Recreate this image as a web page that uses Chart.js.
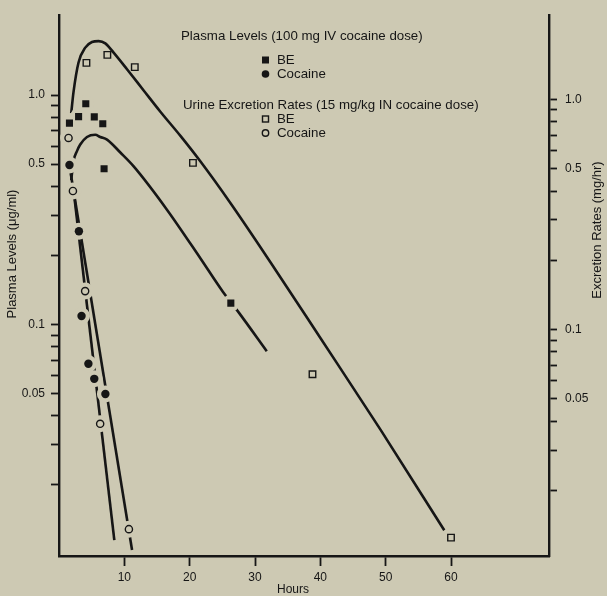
<!DOCTYPE html>
<html>
<head>
<meta charset="utf-8">
<script src="https://cdn.jsdelivr.net/npm/chart.js@4.4.1/dist/chart.umd.min.js"></script>
<style>
html,body{margin:0;padding:0;background:#cdc9b3;}
#wrap{width:607px;height:596px;position:relative;}
</style>
</head>
<body>
<div id="wrap"><canvas id="c" width="607" height="596"></canvas></div>
<script>
// ---------- data ----------
// Plasma levels (100 mg IV cocaine dose), left axis, µg/ml
const plasmaBEHours   = [1.6, 3.0, 4.1, 5.4, 6.7, 6.9, 26.3];
const plasmaBELevels  = [0.755, 0.806, 0.917, 0.804, 0.75, 0.478, 0.124];
const plasmaCocHours  = [1.6, 3.05, 3.45, 4.5, 5.4, 7.1];
const plasmaCocLevels = [0.496, 0.255, 0.109, 0.0675, 0.058, 0.0498];
// Urine excretion rates (15 mg/kg IN cocaine dose), right axis, mg/hr
const urineBEHours    = [4.2, 7.4, 11.6, 20.5, 38.8, 60.0];
const urineBERates    = [1.44, 1.56, 1.38, 0.53, 0.064, 0.0125];
const urineCocHours   = [1.46, 2.13, 4.0, 6.3, 10.7];
const urineCocRates   = [0.68, 0.40, 0.147, 0.039, 0.0136];
// Fitted curves
const urineBEFitHours   = [1.87, 2.22, 2.99, 4.02, 5.05, 6.06, 7.09, 8.36, 10.41, 12.96, 15.52, 18.59, 21.66, 26.26, 32.39, 40.06, 49.23, 58.97];
const urineBEFitRates   = [0.871, 1.075, 1.446, 1.677, 1.774, 1.791, 1.751, 1.596, 1.352, 1.093, 0.884, 0.694, 0.537, 0.354, 0.1958, 0.0915, 0.0367, 0.01345];
const plasmaBEFitHours  = [1.87, 2.22, 2.75, 3.25, 4.28, 5.55, 6.32, 7.35, 9.39, 11.43, 16.55, 21.66, 25.08, 27.53, 31.8];
const plasmaBEFitLevels = [0.426, 0.516, 0.57, 0.609, 0.657, 0.672, 0.657, 0.64, 0.562, 0.489, 0.316, 0.194, 0.139, 0.1127, 0.0765];
const urineCocFitHours   = [2.25, 8.47];
const urineCocFitRates   = [0.399, 0.0122];
const plasmaCocFitHours  = [1.64, 11.18];
const plasmaCocFitLevels = [0.4845, 0.0104];
// Ticks
const xTickValues = [10, 20, 30, 40, 50, 60];
const yTickValues = [0.02, 0.03, 0.04, 0.05, 0.06, 0.07, 0.08, 0.09, 0.1, 0.2, 0.3, 0.4, 0.5, 0.6, 0.7, 0.8, 0.9, 1.0];
const yLabelValues = [1.0, 0.5, 0.1, 0.05];
const yLabelTexts  = ['1.0', '0.5', '0.1', '0.05'];
// Text
const legendHeadings = ['Plasma Levels (100 mg IV cocaine dose)', 'Urine Excretion Rates (15 mg/kg IN cocaine dose)'];
const legendNames = ['BE', 'Cocaine', 'BE', 'Cocaine'];
const xTitle = 'Hours';
const yTitle = 'Plasma Levels (\u03bcg/ml)';
const y2Title = 'Excretion Rates (mg/hr)';

// ---------- styling ----------
const BG = '#cdc9b3';
const INK = '#161616';
const FONT = "'Liberation Sans', Arial, Helvetica, sans-serif";

const pts = (xs, ys) => xs.map((x, i) => ({x: x, y: ys[i]}));
const yLabel = (v) => {
  for (let i = 0; i < yLabelValues.length; i++) {
    if (Math.abs(v - yLabelValues[i]) < 1e-9) return yLabelTexts[i];
  }
  return '';
};

function fitLine(label, data, axis, smooth) {
  return {
    label: label, data: data, yAxisID: axis, showLine: true,
    borderColor: INK, borderWidth: 2.6, pointRadius: 0, fill: false,
    cubicInterpolationMode: smooth ? 'monotone' : 'default', tension: 0,
    order: 3
  };
}
function halo(label, data, axis) {
  return {
    label: label, data: data, yAxisID: axis, showLine: false,
    pointRadius: 8.5, pointHoverRadius: 8.5, pointBackgroundColor: BG,
    pointBorderWidth: 0, pointBorderColor: BG, order: 2
  };
}
function marks(label, data, axis, style, r, filled) {
  return {
    label: label, data: data, yAxisID: axis, showLine: false,
    pointStyle: style, pointRadius: r, pointHoverRadius: r,
    pointBackgroundColor: filled ? INK : BG,
    pointBorderColor: INK, pointBorderWidth: filled ? 0 : 1.4, order: 1
  };
}

const datasets = [
  fitLine('Urine BE fit', pts(urineBEFitHours, urineBEFitRates), 'y2', true),
  fitLine('Plasma BE fit', pts(plasmaBEFitHours, plasmaBEFitLevels), 'y', true),
  fitLine('Urine cocaine fit', pts(urineCocFitHours, urineCocFitRates), 'y2', false),
  fitLine('Plasma cocaine fit', pts(plasmaCocFitHours, plasmaCocFitLevels), 'y', false),
  halo('h1', pts(plasmaBEHours, plasmaBELevels), 'y'),
  halo('h2', pts(plasmaCocHours, plasmaCocLevels), 'y'),
  halo('h3', pts(urineCocHours, urineCocRates), 'y2'),
  marks('Plasma BE', pts(plasmaBEHours, plasmaBELevels), 'y', 'rect', 5, true),
  marks('Plasma Cocaine', pts(plasmaCocHours, plasmaCocLevels), 'y', 'circle', 4.2, true),
  marks('Urine BE', pts(urineBEHours, urineBERates), 'y2', 'rect', 4.6, false),
  marks('Urine Cocaine', pts(urineCocHours, urineCocRates), 'y2', 'circle', 3.6, false)
];

const axisGrid = (len) => ({
  drawOnChartArea: false, drawTicks: true, tickLength: len,
  tickColor: INK, tickWidth: 1.8
});
const axisBorder = {display: true, color: INK, width: 2.4};

const textPlugin = {
  id: 'textPlugin',
  beforeDraw(chart) {
    const c = chart.ctx;
    c.save();
    c.fillStyle = BG;
    c.fillRect(0, 0, chart.width, chart.height);
    c.restore();
  },
  afterDraw(chart) {
    const c = chart.ctx;
    c.save();
    c.fillStyle = INK;
    c.strokeStyle = INK;
    c.textBaseline = 'middle';
    c.textAlign = 'left';
    c.font = '13.3px ' + FONT;
    c.fillText(legendHeadings[0], 181, 36);
    c.fillText(legendHeadings[1], 183, 105);
    const rows = [60, 74, 119, 133];
    const mx = 265.5, tx = 277;
    rows.forEach((y, i) => {
      c.fillText(legendNames[i], tx, y + 0.5);
      c.beginPath();
      if (i === 0) { c.fillRect(mx - 3.5, y - 3.5, 7, 7); }
      else if (i === 1) { c.arc(mx, y, 3.8, 0, Math.PI * 2); c.fill(); }
      else if (i === 2) { c.lineWidth = 1.4; c.strokeRect(mx - 3, y - 3, 6, 6); }
      else { c.lineWidth = 1.4; c.arc(mx, y, 3.2, 0, Math.PI * 2); c.stroke(); }
    });
    // axis titles
    c.textAlign = 'center';
    c.font = '12px ' + FONT;
    c.fillText(xTitle, 293, 590);
    c.font = '13px ' + FONT;
    c.save();
    c.translate(12.5, 254);
    c.rotate(-Math.PI / 2);
    c.fillText(yTitle, 0, 0);
    c.restore();
    c.save();
    c.translate(597.5, 230);
    c.rotate(-Math.PI / 2);
    c.fillText(y2Title, 0, 0);
    c.restore();
    c.restore();
  }
};

new Chart(document.getElementById('c'), {
  type: 'line',
  data: {datasets: datasets},
  plugins: [textPlugin],
  options: {
    responsive: false,
    animation: false,
    events: [],
    layout: {padding: {top: 9, left: 0, right: 0, bottom: 0}},
    plugins: {legend: {display: false}, tooltip: {enabled: false}, title: {display: false}},
    scales: {
      x: {
        type: 'linear', min: 0, max: 75, bounds: 'data',
        afterBuildTicks: (s) => { s.ticks = xTickValues.map(v => ({value: v})); },
        afterFit: (s) => { s.height = 40; },
        ticks: {autoSkip: false, maxRotation: 0, color: INK, padding: 4, font: {family: FONT, size: 12}},
        grid: axisGrid(10),
        border: axisBorder,
        title: {display: false, text: xTitle}
      },
      y: {
        type: 'logarithmic', position: 'left', min: 0.0098, max: 2.23, bounds: 'data',
        afterBuildTicks: (s) => { s.ticks = yTickValues.map(v => ({value: v})); },
        afterFit: (s) => { s.width = 59; },
        ticks: {autoSkip: false, color: INK, padding: 6, font: {family: FONT, size: 12}, callback: (v) => yLabel(v)},
        grid: axisGrid(8),
        border: axisBorder,
        title: {display: false, text: yTitle}
      },
      y2: {
        type: 'logarithmic', position: 'right', min: 0.0104, max: 2.32, bounds: 'data',
        afterBuildTicks: (s) => { s.ticks = yTickValues.map(v => ({value: v})); },
        afterFit: (s) => { s.width = 58; },
        ticks: {autoSkip: false, color: INK, padding: 8, font: {family: FONT, size: 12}, callback: (v) => yLabel(v)},
        grid: axisGrid(8),
        border: axisBorder,
        title: {display: false, text: y2Title}
      }
    }
  }
});
</script>
</body>
</html>
